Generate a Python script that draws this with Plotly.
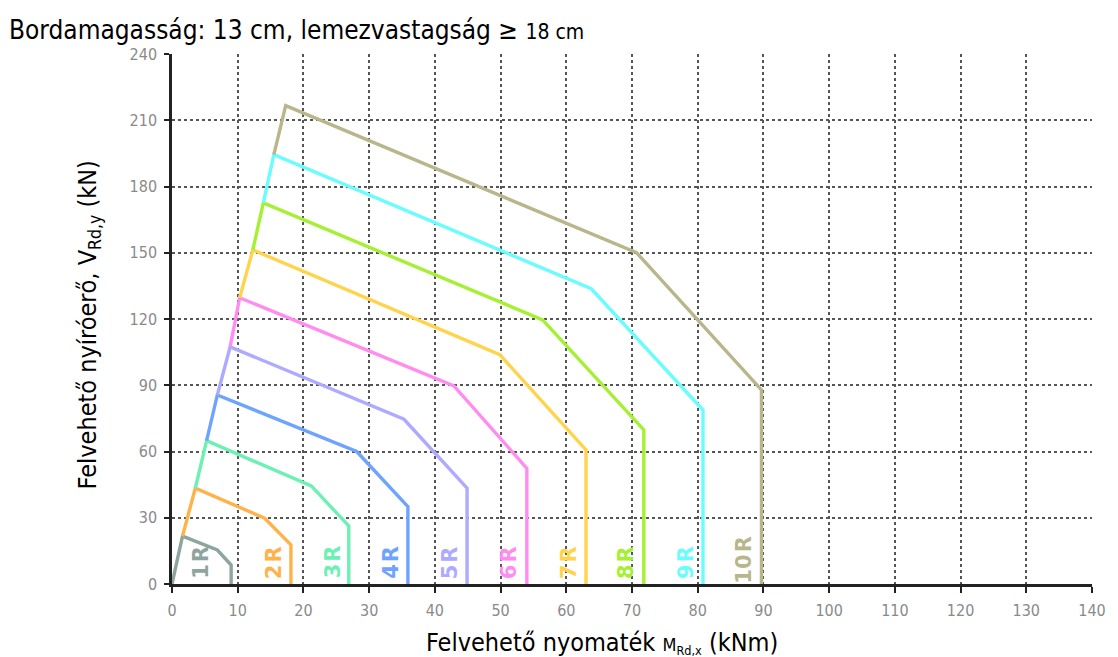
import plotly.graph_objects as go

# ---- data ----
series_names = ["1R", "2R", "3R", "4R", "5R", "6R", "7R", "8R", "9R", "10R"]
colors = ["#8ea59f", "#ffb24a", "#6cf0b4", "#6ea4ff", "#aeaaff",
          "#ff8cf0", "#ffd44c", "#a6f034", "#6cfcff", "#b9b68c"]

m_1R = [0, 1.6, 6.9, 9.0, 9.0]
v_1R = [0, 21.7, 15.4, 8.6, 0]
m_2R = [1.6, 3.55, 14.1, 18.1, 18.1]
v_2R = [21.7, 43.4, 29.8, 17.7, 0]
m_3R = [3.55, 5.27, 21.2, 26.9, 26.9]
v_3R = [43.4, 64.9, 44.4, 26.3, 0]
m_4R = [5.27, 6.9, 28.1, 35.9, 35.9]
v_4R = [64.9, 85.6, 60.0, 35.0, 0]
m_5R = [6.9, 8.85, 35.3, 44.9, 44.9]
v_5R = [85.6, 107.4, 74.6, 43.4, 0]
m_6R = [8.85, 10.3, 42.9, 54.0, 54.0]
v_6R = [107.4, 129.6, 89.7, 52.4, 0]
m_7R = [10.3, 12.3, 49.9, 63.0, 63.0]
v_7R = [129.6, 151.3, 103.8, 60.7, 0]
m_8R = [12.3, 13.9, 56.4, 71.8, 71.8]
v_8R = [151.3, 172.6, 119.6, 69.8, 0]
m_9R = [13.9, 15.5, 63.8, 80.8, 80.8]
v_9R = [172.6, 194.4, 133.7, 78.8, 0]
m_10R = [15.5, 17.3, 70.7, 89.7, 89.7]
v_10R = [194.4, 216.6, 150.0, 87.9, 0]

label_x = [4.4, 15.5, 24.5, 33.4, 42.3, 51.4, 60.4, 69.2, 78.3, 87.1]
label_y = [10.0, 9.8, 9.8, 9.8, 9.8, 9.8, 9.8, 9.8, 9.8, 11.2]

x_ticks = list(range(0, 141, 10))
y_ticks = list(range(0, 241, 30))

ms = [m_1R, m_2R, m_3R, m_4R, m_5R, m_6R, m_7R, m_8R, m_9R, m_10R]
vs = [v_1R, v_2R, v_3R, v_4R, v_5R, v_6R, v_7R, v_8R, v_9R, v_10R]

fig = go.Figure()
for name, m, v, c in zip(series_names, ms, vs, colors):
    fig.add_trace(go.Scatter(x=m, y=v, mode="lines", name=name,
                             line=dict(color=c, width=3.4),
                             showlegend=False, hoverinfo="skip"))

for name, lx, ly, c in zip(series_names, label_x, label_y, colors):
    fig.add_annotation(x=lx, y=ly, xref="x", yref="y",
                       text="<b>" + name[:-1] + "\u200a" + name[-1] + "</b>",
                       textangle=-90, showarrow=False,
                       font=dict(family="DejaVu Sans", size=21, color=c))

grid = dict(showgrid=True, gridcolor="#555555", griddash="dot", gridwidth=1.5)
tickfont = dict(family="DejaVu Sans Condensed", size=16, color="#8a8a8a")
title_font = dict(family="DejaVu Sans Condensed", size=25, color="#000")

fig.update_xaxes(range=[0, 140], tickvals=x_ticks, ticks="outside", ticklen=6,
                 tickwidth=2, tickcolor="#222", showline=True, linecolor="#222",
                 linewidth=2.5, zeroline=False, tickfont=tickfont,
                 ticklabelstandoff=4, **grid)
fig.update_yaxes(range=[0, 240], tickvals=y_ticks, ticks="outside", ticklen=5,
                 tickwidth=2, tickcolor="#222", showline=True, linecolor="#222",
                 linewidth=2.5, zeroline=False, tickfont=tickfont,
                 ticklabelstandoff=4, **grid)

# axis titles
fig.add_annotation(x=0.4676, y=-0.111, xref="paper", yref="paper",
                   xanchor="center", yanchor="middle", showarrow=False,
                   text="Felvehető nyomaték <span style='font-size:18px'>M<sub>Rd,x</sub></span> (kNm)",
                   font=title_font)
fig.add_annotation(x=-0.0907, y=0.489, xref="paper", yref="paper",
                   xanchor="center", yanchor="middle", showarrow=False,
                   textangle=-90,
                   text="Felvehető nyíróerő, V<sub>Rd,y</sub> (kN)",
                   font=title_font)

fig.update_layout(
    width=1118, height=657,
    margin=dict(l=172, r=20, t=54, b=73),
    plot_bgcolor="white", paper_bgcolor="white",
    title=dict(text="Bordamagasság: 13 cm, lemezvastagság ≥ <span style='font-size:21px'>18 cm</span>",
               x=0.008, xanchor="left", y=0.955, yanchor="middle",
               font=dict(family="DejaVu Sans Condensed", size=26, color="#000")),
)

fig.write_html("out.html")
